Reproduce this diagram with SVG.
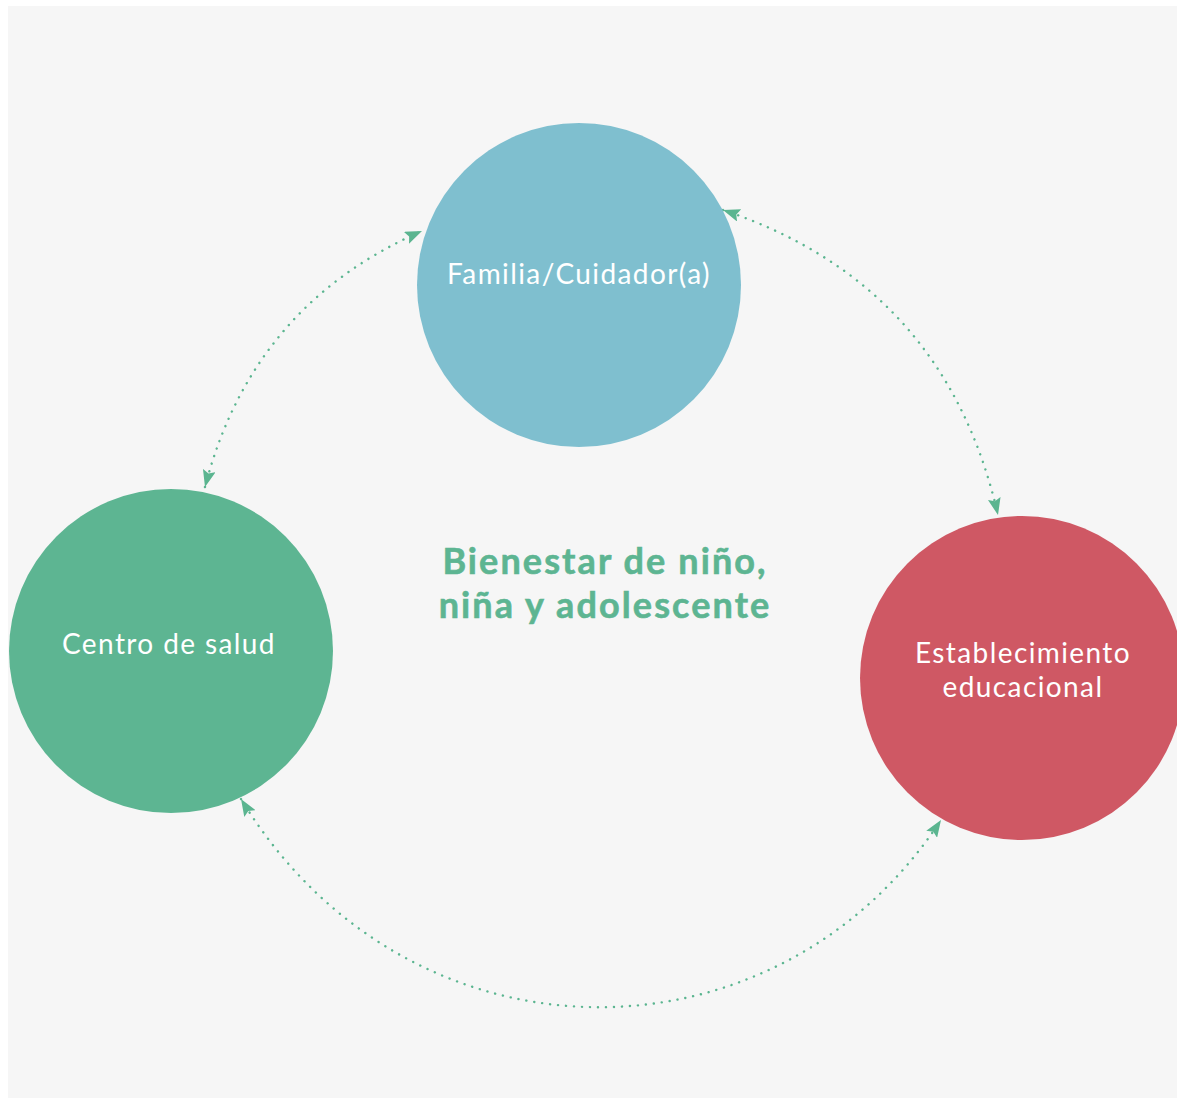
<svg xmlns="http://www.w3.org/2000/svg" width="1177" height="1101" viewBox="0 0 1177 1101">
  <defs>
    <style>
      .lbl { font-family: Lato, "Open Sans", "Liberation Sans", sans-serif; font-size: 28px; letter-spacing: 1.4px; fill: #ffffff; text-anchor: middle; }
      .title { font-family: Lato, "Open Sans", "Liberation Sans", sans-serif; font-size: 36px; font-weight: 700; letter-spacing: 2.1px; fill: #5db592; stroke: #5db592; stroke-width: 0.6px; text-anchor: middle; }
      .conn { fill: none; stroke: #5bb590; stroke-width: 2.4; stroke-linecap: round; stroke-dasharray: 0.1 7.9; }
    </style>
    <marker id="arrow" viewBox="0 0 17 13" refX="17" refY="6.5" markerWidth="17" markerHeight="13" markerUnits="userSpaceOnUse" orient="auto-start-reverse">
      <path d="M0,0 L17,6.5 L0,13 L3,6.5 z" fill="#5bb590"/>
    </marker>
  </defs>
  <rect x="0" y="0" width="1177" height="1101" fill="#ffffff"/>
  <rect x="8" y="6" width="1169" height="1092" fill="#f6f6f6"/>

  <g id="connectors">
    <path class="conn" d="M205,487 Q252,305 422,231" marker-start="url(#arrow)" marker-end="url(#arrow)"/>
    <path class="conn" d="M723,210 Q945,284 998,515" marker-start="url(#arrow)" marker-end="url(#arrow)"/>
    <path class="conn" d="M241,799 C408,1073 775,1073 941,820" marker-start="url(#arrow)" marker-end="url(#arrow)"/>
  </g>

  <g id="node-familia">
    <circle cx="579" cy="285" r="162" fill="#7fbfcf"/>
    <text class="lbl" x="579" y="284">Familia/Cuidador(a)</text>
  </g>
  <g id="node-centro-salud">
    <circle cx="171" cy="651" r="162" fill="#5db592"/>
    <text class="lbl" x="169" y="654">Centro de salud</text>
  </g>
  <g id="node-establecimiento">
    <circle cx="1022" cy="678" r="162" fill="#cf5864"/>
    <text class="lbl" x="1023" y="663">Establecimiento</text>
    <text class="lbl" x="1023" y="697">educacional</text>
  </g>
  <g id="center-title">
    <text class="title" x="605" y="574">Bienestar de niño,</text>
    <text class="title" x="605" y="618">niña y adolescente</text>
  </g>
</svg>
